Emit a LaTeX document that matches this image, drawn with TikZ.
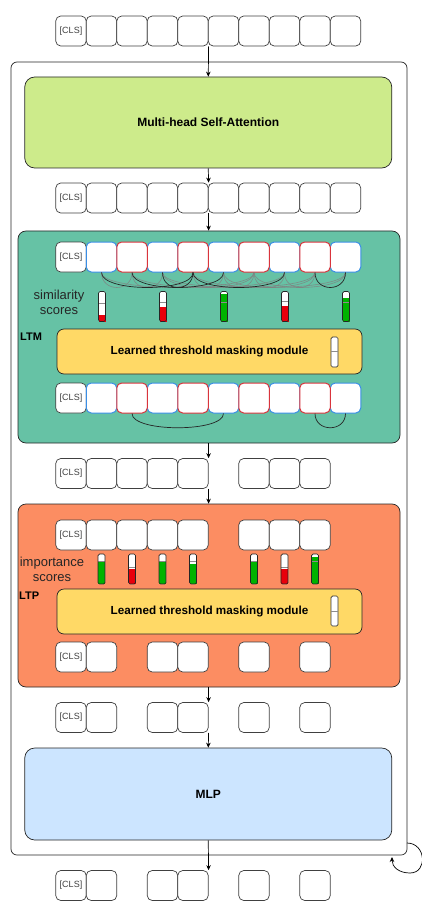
\documentclass[tikz,border=0pt]{standalone}
\usepackage{fontspec}
\setmainfont{Liberation Sans}
\usepackage{xcolor}
\usetikzlibrary{arrows.meta}
\definecolor{ltmgreen}{HTML}{66C2A5}
\definecolor{ltporange}{HTML}{FC8D62}
\definecolor{attgreen}{HTML}{CDEB8B}
\definecolor{mlpblue}{HTML}{CCE5FF}
\definecolor{maskyellow}{HTML}{FFD966}
\definecolor{tokred}{HTML}{D9343C}
\definecolor{tokblue}{HTML}{3A8EE6}
\definecolor{barred}{HTML}{E8000B}
\definecolor{bargreen}{HTML}{00B300}
% score bar: x, top, fill level, colour, threshold
\newcommand{\scorebar}[5]{%
\fill [white, rounded corners=1.5pt] (#1-3.5,#2) rectangle (#1+3.5,#2+30);
\fill [#4] (#1-3.5,#3) rectangle (#1+3.5,#2+30);
\draw [black!45, thin] (#1-3.5,#5) -- (#1+3.5,#5);
\draw [black!85, line width=0.7pt, rounded corners=1.5pt] (#1-3.5,#2) rectangle (#1+3.5,#2+30);
}

\begin{document}
\begin{tikzpicture}[x=1pt,y=-1pt,
  >={Stealth[length=5pt,width=4.5pt]},
  tokbox/.style={draw=black!75, fill=white, rounded corners=5pt, line width=0.7pt,
    minimum width=30.5pt, minimum height=30pt, inner sep=0pt,
    text=black!75, font=\fontsize{9}{10}\selectfont},
  bluetok/.style={tokbox, draw=tokblue, line width=1pt},
  redtok/.style={tokbox, draw=tokred, line width=1pt},
  bigbox/.style={draw=black!85, line width=0.7pt, rounded corners=10pt,
    font=\bfseries\fontsize{12}{14}\selectfont},
  maskbox/.style={draw=black!85, fill=maskyellow, line width=0.7pt, rounded corners=7pt,
    minimum width=305pt, minimum height=45pt,
    font=\bfseries\fontsize{11.7}{14}\selectfont},
  sidelabel/.style={align=center, text=black!85, font=\fontsize{13}{15}\selectfont, inner sep=0pt},
  edge/.style={black!85, line width=0.7pt},
  weakedge/.style={black!50, line width=0.6pt, opacity=0.8}]
\useasboundingbox (0,0) rectangle (422,909);

% transformer block
\node [draw=black!85, line width=0.7pt, rounded corners=6pt, minimum width=396pt, minimum height=793pt] (frame) at (209,458.5) {};
\node [bigbox, fill=attgreen, minimum width=367pt, minimum height=91pt] (mhsa) at (208.25,122.5) {Multi-head Self-Attention};
\node [bigbox, fill=ltmgreen, rounded corners=8pt, minimum width=382pt, minimum height=212pt] (ltm) at (209,337) {};
\node [bigbox, fill=ltporange, rounded corners=8pt, minimum width=382pt, minimum height=183pt] (ltp) at (209,595.5) {};
\node [bigbox, fill=mlpblue, minimum width=367pt, minimum height=92pt] (mlp) at (208.25,794) {MLP};

% token rows
\node [tokbox] (a0) at (71,31) {[CLS]};
\foreach \i in {1,...,9} \node [tokbox] (a\i) at (71+30.5*\i,31) {};
\node [tokbox] (b0) at (71,198) {[CLS]};
\foreach \i in {1,...,9} \node [tokbox] (b\i) at (71+30.5*\i,198) {};

% LTM
\node [tokbox] (c0) at (71,257) {[CLS]};
\foreach \i in {1,3,5,7,9} \node [bluetok] (c\i) at (71+30.5*\i,257) {};
\foreach \i in {2,4,6,8} \node [redtok] (c\i) at (71+30.5*\i,257) {};
\foreach \s/\t in {1/2,2/3,3/6,4/5,5/6,5/8,6/7,7/8,6/9,1/6,3/8,2/7,4/9}
  \draw [weakedge] (c\s.south) .. controls +(0,20) and +(0,20) .. (c\t.south);
\foreach \s/\t in {1/4,3/4,2/5,4/7,8/9}
  \draw [edge] (c\s.south) .. controls +(0,20) and +(0,20) .. (c\t.south);
\node [sidelabel] (simlabel) at (59,302.5) {similarity\\scores};
\scorebar{102}{291.5}{315}{barred}{303}
\scorebar{163}{291.5}{307}{barred}{302}
\scorebar{224}{291.5}{293.5}{bargreen}{302}
\scorebar{285}{291.5}{306}{barred}{301}
\scorebar{346}{291.5}{298}{bargreen}{302}
\node [anchor=west, inner sep=0pt, font=\bfseries\fontsize{11}{13}\selectfont] (ltmlabel) at (20,337) {LTM};
\node [maskbox] (ltmmask) at (209.5,351.5) {Learned threshold masking module};
\draw [black!80, fill=white, line width=0.7pt, rounded corners=1.5pt] (331,337) rectangle (338,367);
\draw [black!45, thin] (331,351) -- (338,351);
\node [tokbox] (d0) at (71,398) {[CLS]};
\foreach \i in {1,3,5,7,9} \node [bluetok] (d\i) at (71+30.5*\i,398) {};
\foreach \i in {2,4,6,8} \node [redtok] (d\i) at (71+30.5*\i,398) {};
\draw [edge] (d2.south) .. controls +(0,19) and +(0,19) .. (d5.south);
\draw [edge] (d8.south) .. controls +(0,19) and +(0,19) .. (d9.south);

\node [tokbox] (e0) at (71,473.5) {[CLS]};
\foreach \i in {1,2,3,4,6,7,8} \node [tokbox] (e\i) at (71+30.5*\i,473.5) {};

% LTP
\node [tokbox] (f0) at (71,535) {[CLS]};
\foreach \i in {1,2,3,4,6,7,8} \node [tokbox] (f\i) at (71+30.5*\i,535) {};
\node [sidelabel] (implabel) at (52,569.5) {importance\\scores};
\scorebar{101.5}{554}{562}{bargreen}{561}
\scorebar{132}{554}{569}{barred}{567}
\scorebar{162.5}{554}{562}{bargreen}{561}
\scorebar{193}{554}{564}{bargreen}{561}
\scorebar{254}{554}{562}{bargreen}{561}
\scorebar{284.5}{554}{569}{barred}{567}
\scorebar{315}{554}{557}{bargreen}{561}
\node [anchor=west, inner sep=0pt, font=\bfseries\fontsize{11}{13}\selectfont] (ltplabel) at (19,596) {LTP};
\node [maskbox] (ltpmask) at (209.5,611.5) {Learned threshold masking module};
\draw [black!80, fill=white, line width=0.7pt, rounded corners=1.5pt] (331,596) rectangle (338,626);
\draw [black!45, thin] (331,611) -- (338,611);
\node [tokbox] (g0) at (71,657) {[CLS]};
\foreach \i in {1,3,4,6,8} \node [tokbox] (g\i) at (71+30.5*\i,657) {};

\node [tokbox] (h0) at (71,717.5) {[CLS]};
\foreach \i in {1,3,4,6,8} \node [tokbox] (h\i) at (71+30.5*\i,717.5) {};
\node [tokbox] (k0) at (71,885.5) {[CLS]};
\foreach \i in {1,3,4,6,8} \node [tokbox] (k\i) at (71+30.5*\i,885.5) {};

% main flow
\draw [->, line width=0.7pt] (a4.south east) -- (mhsa.north);
\draw [->, line width=0.7pt] (mhsa.south) -- (b4.north east);
\draw [->, line width=0.7pt] (b4.south east) -- (ltm.north -| b4.east);
\draw [->, line width=0.7pt] (ltm.south -| e4.east) -- (e4.north east);
\draw [->, line width=0.7pt] (e4.south east) -- (ltp.north -| e4.east);
\draw [->, line width=0.7pt] (ltp.south -| h4.east) -- (h4.north east);
\draw [->, line width=0.7pt] (h4.south east) -- (mlp.north);
\draw [->, line width=0.7pt] (mlp.south) -- (k4.north east);

% repeat
\coordinate (loopstart) at (407,843);
\coordinate (loopend) at (392,857);
\draw [->, line width=0.7pt] (loopstart) .. controls (426,843) and (428,873) .. (410,873)
  .. controls (399,873) and (392,867) .. (loopend);
\end{tikzpicture}
\end{document}
